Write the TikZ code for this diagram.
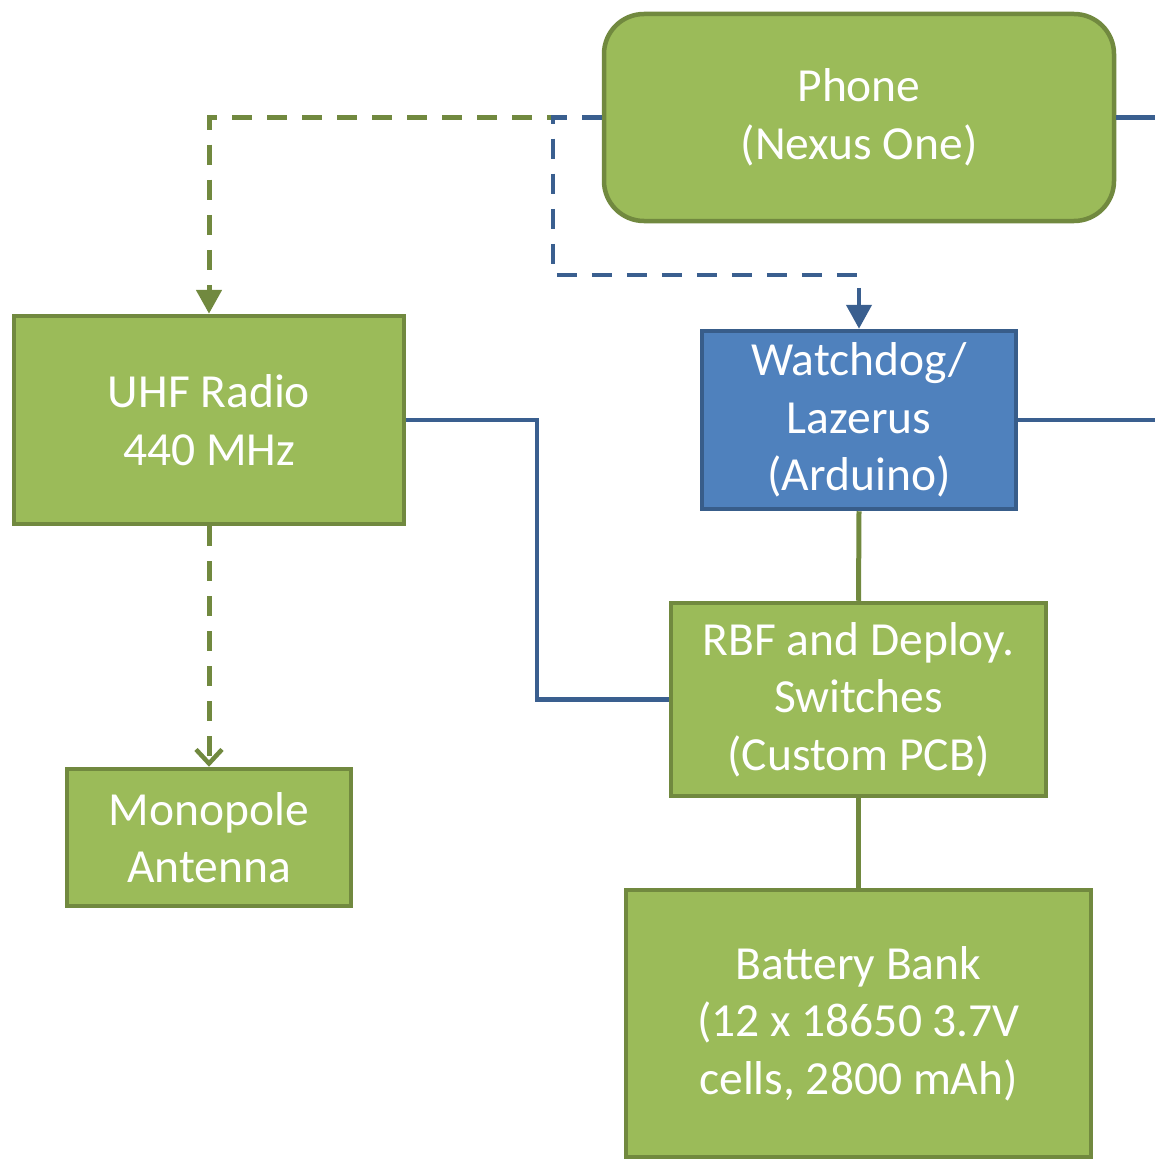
\documentclass[tikz,border=0pt]{standalone}
\usepackage{fontspec}
\setmainfont{Carlito}
\usetikzlibrary{arrows.meta}
\definecolor{boxgreen}{HTML}{9BBB59}
\definecolor{edgegreen}{HTML}{71893F}
\definecolor{boxblue}{HTML}{4F81BD}
\definecolor{edgeblue}{HTML}{385D8A}
\definecolor{wireblue}{HTML}{3A5F8F}
\tikzset{
  block/.style={draw=edgegreen, fill=boxgreen, line width=4.5pt, inner sep=0pt,
    align=center, text=white, font=\fontsize{47.5}{57.5}\selectfont},
  blueblock/.style={block, draw=edgeblue, fill=boxblue},
  greenwire/.style={draw=edgegreen, line width=5pt},
  bluewire/.style={draw=wireblue, line width=4.5pt},
  dashpat/.style={dash pattern=on 20pt off 15pt},
  filledhead/.style={-{Triangle[length=24pt,width=25pt]}},
  openhead/.style={-{Straight Barb[length=14pt,width=26pt,line width=4.5pt]}}
}
\begin{document}
\begin{tikzpicture}[x=1pt,y=-1pt]
\useasboundingbox (0,0) rectangle (1155,1161);

% blocks
\node[block, rounded corners=40pt, minimum width=510pt, minimum height=207pt]
  (phone) at (859,117.5) {Phone\\(Nexus One)};
\node[block, minimum width=390pt, minimum height=208pt]
  (uhf) at (209,420) {UHF Radio\\440 MHz};
\node[blueblock, minimum width=314pt, minimum height=178pt]
  (wd) at (859,420) {Watchdog/\\Lazerus\\(Arduino)};
\node[block, minimum width=375pt, minimum height=193pt]
  (rbf) at (858.5,699.5) {RBF and Deploy.\\Switches\\(Custom PCB)};
\node[block, minimum width=284pt, minimum height=137pt]
  (ant) at (209,837.5) {Monopole\\Antenna};
\node[block, minimum width=465pt, minimum height=267pt]
  (bat) at (858.5,1023.5) {Battery Bank\\(12 x 18650 3.7V\\cells, 2800 mAh)};

% routing points
\coordinate (phoneout) at (1155,117.5);
\coordinate (wdout) at (1155,420);
\coordinate (wdbend) at (553,275);
\coordinate (uhfbend) at (537,699.5);

% dashed control links
\draw[greenwire, dashpat, filledhead] (phone.west) -| (uhf.north);
\draw[bluewire, dashpat, filledhead] (phone.west) -| (wdbend) -| (wd.north);
\draw[greenwire, dashpat, openhead] (uhf.south) -- (ant.north);

% solid wiring
\draw[bluewire] (phone.east) -- (phoneout);
\draw[bluewire] (wd.east) -- (wdout);
\draw[bluewire] (uhf.east) -| (uhfbend) -- (rbf.west);
\draw[greenwire] (wd.south) -- (rbf.north);
\draw[greenwire] (rbf.south) -- (bat.north);
\end{tikzpicture}
\end{document}
